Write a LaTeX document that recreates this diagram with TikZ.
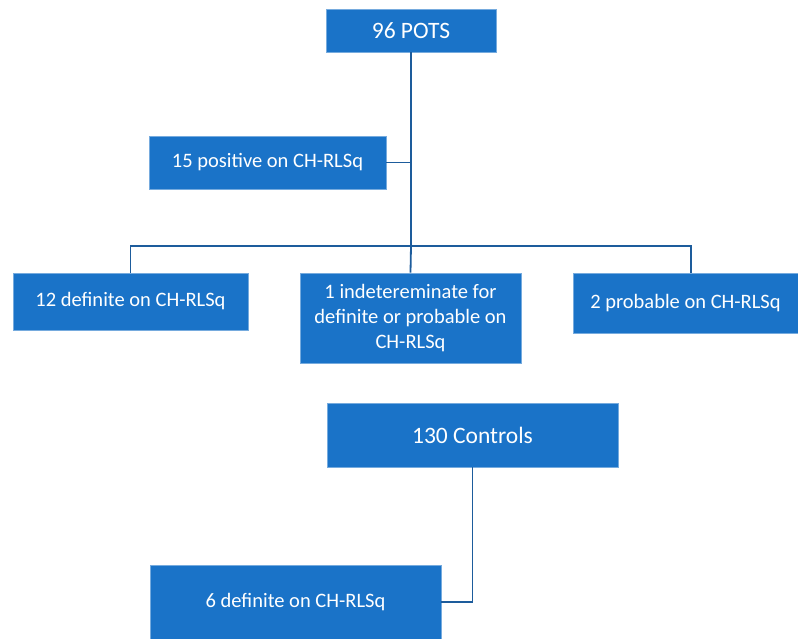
\documentclass[tikz,border=0pt]{standalone}
\usepackage{fontspec}
\setmainfont{Carlito}
\definecolor{boxblue}{HTML}{1A73C8}
\definecolor{lineblue}{HTML}{1D5C9C}
\tikzset{
  box/.style={rectangle, fill=boxblue, draw=boxblue!60!white, line width=0.6pt,
    text=white, font=\fontsize{20.5}{25}\selectfont, align=center, inner sep=0pt},
  head/.style={box, font=\fontsize{23.5}{28}\selectfont},
  link/.style={draw=lineblue, line width=1.8pt}
}
\begin{document}
\begin{tikzpicture}[x=1pt,y=-1pt]
      \useasboundingbox (0,0) rectangle (798,639);
      \draw
        (411,30.5) node[head, minimum width=170, minimum height=43] (pots){96 POTS}
        (267.5,162.5) node[box, minimum width=237, minimum height=53] (pos){15 positive on CH-RLSq}
        (130.5,301.5) node[box, minimum width=235, minimum height=57] (def){12 definite on CH-RLSq}
        (410.5,318) node[box, minimum width=221, minimum height=90] (ind){1 indetereminate for\\definite or probable on\\CH-RLSq}
        (685.5,303) node[box, minimum width=225, minimum height=60] (prob){2 probable on CH-RLSq}
        (472.5,435) node[head, minimum width=291, minimum height=64] (ctrl){130 Controls}
        (295.5,602) node[box, minimum width=291, minimum height=74] (cdef){6 definite on CH-RLSq};
      \coordinate (split) at (411,246);
      \begin{scope}[link]
        \draw (pots) to (split);
        \draw (pos.east) to (pos.east -| pots.south);
        \draw (def.north) |- (split) -| ([xshift=5.5]prob.north);
        \draw (split) to (ind.north);
        \draw (ctrl.south) |- (cdef.east);
      \end{scope}
    \end{tikzpicture}
\end{document}
